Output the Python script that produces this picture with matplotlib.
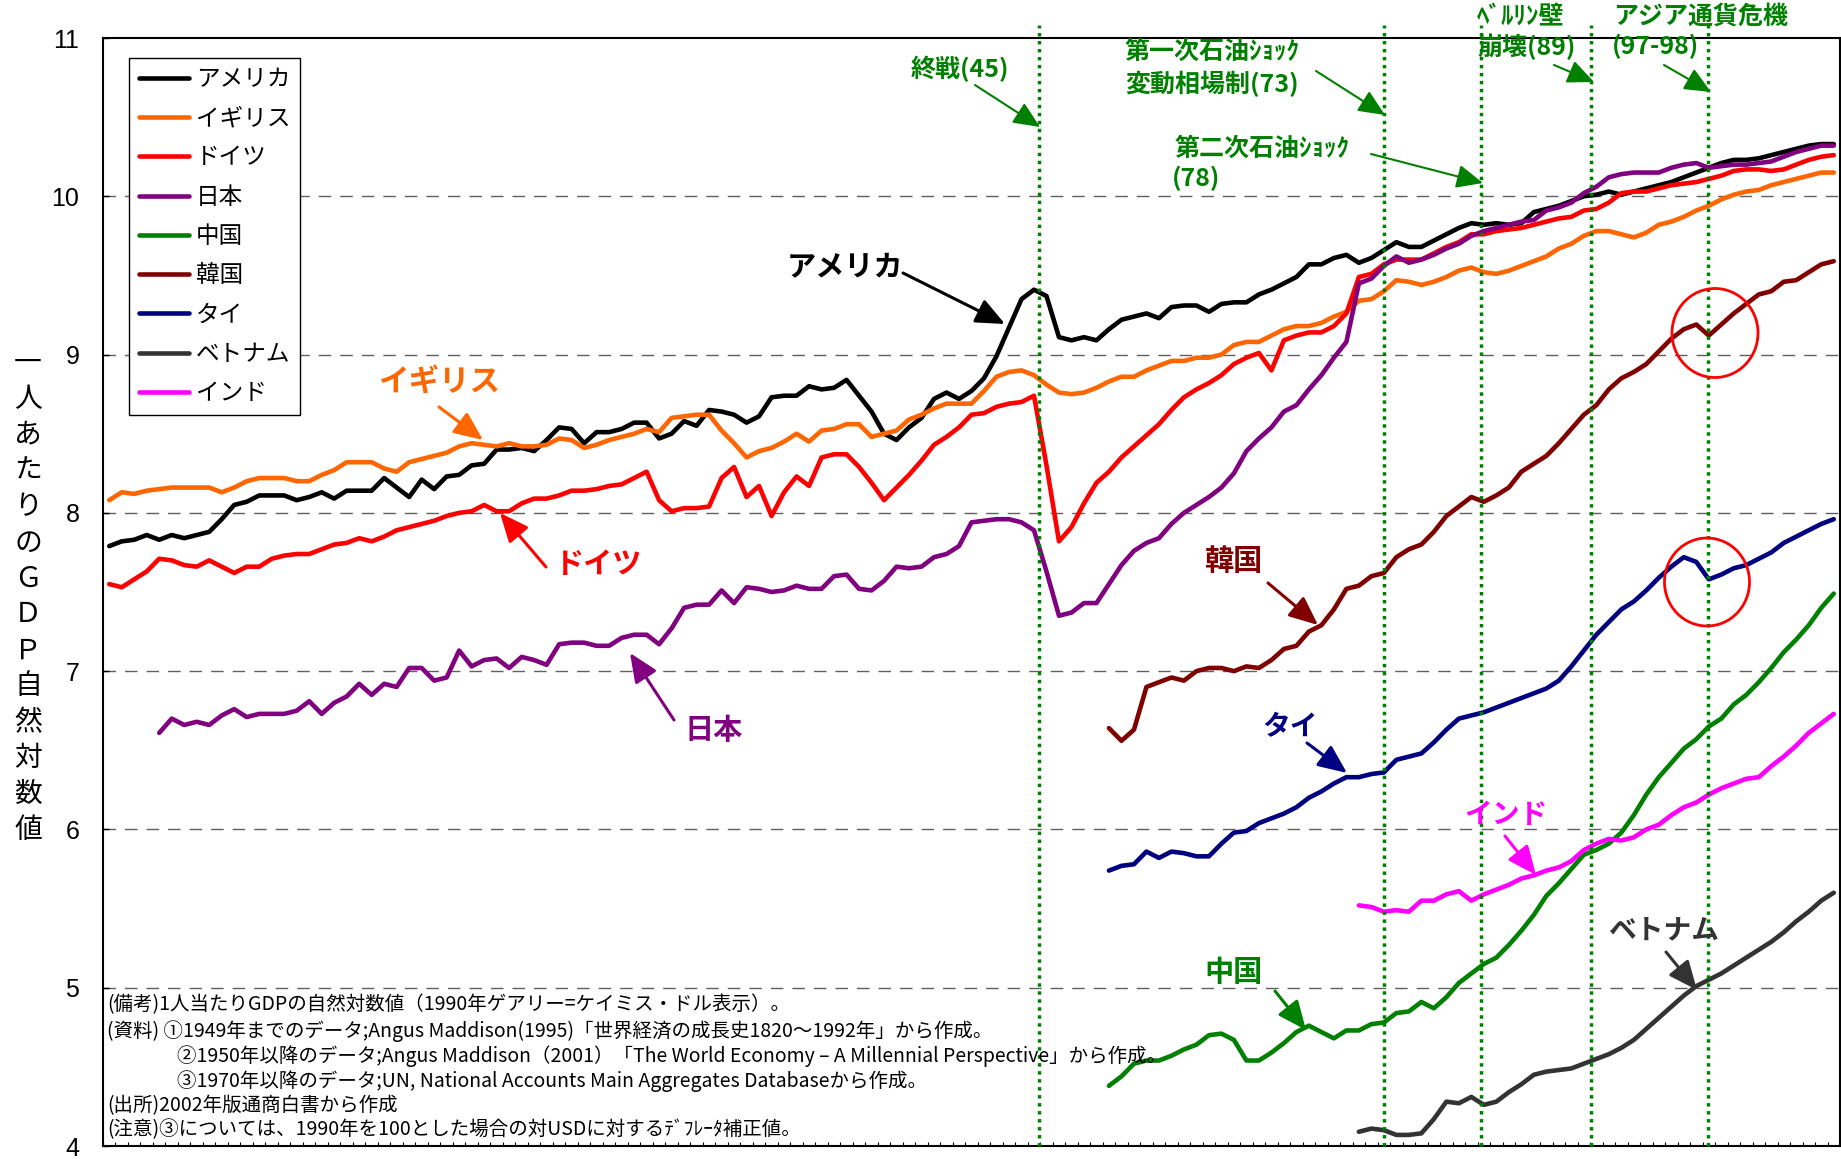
import numpy as np
import matplotlib
matplotlib.use("Agg")
import matplotlib.pyplot as plt
from matplotlib.transforms import Affine2D
from matplotlib.patches import Ellipse

plt.rcParams['font.family'] = ['Noto Sans CJK JP', 'DejaVu Sans']

# ---------------- data (natural log of GDP per capita) ----------------
years_all = list(range(1870, 2009))
years_japan = list(range(1874, 2009))
years_1950 = list(range(1950, 2009))
years_1970 = list(range(1970, 2009))

usa = [7.79, 7.82, 7.83, 7.86, 7.83, 7.86, 7.84, 7.86, 7.88, 7.96,
       8.05, 8.07, 8.11, 8.11, 8.11, 8.08, 8.10, 8.13, 8.09, 8.14,
       8.14, 8.14, 8.22, 8.16, 8.10, 8.21, 8.15, 8.23, 8.24, 8.30,
       8.31, 8.40, 8.40, 8.41, 8.39, 8.46, 8.54, 8.53, 8.44, 8.51,
       8.51, 8.53, 8.57, 8.57, 8.47, 8.50, 8.58, 8.55, 8.65, 8.64,
       8.62, 8.57, 8.61, 8.73, 8.74, 8.74, 8.80, 8.78, 8.79, 8.84,
       8.74, 8.64, 8.50, 8.46, 8.54, 8.60, 8.72, 8.76, 8.72, 8.77,
       8.85, 8.99, 9.17, 9.35, 9.41, 9.37, 9.11, 9.09, 9.11, 9.09,
       9.16, 9.22, 9.24, 9.26, 9.23, 9.30, 9.31, 9.31, 9.27, 9.32,
       9.33, 9.33, 9.38, 9.41, 9.45, 9.49, 9.57, 9.57, 9.61, 9.63,
       9.58, 9.61, 9.66, 9.71, 9.68, 9.68, 9.72, 9.76, 9.80, 9.83,
       9.82, 9.83, 9.82, 9.83, 9.90, 9.92, 9.94, 9.97, 10.00, 10.01,
       10.03, 10.01, 10.03, 10.05, 10.07, 10.09, 10.12, 10.15, 10.18, 10.21,
       10.23, 10.23, 10.24, 10.26, 10.28, 10.30, 10.32, 10.33, 10.33]

uk = [8.08, 8.13, 8.12, 8.14, 8.15, 8.16, 8.16, 8.16, 8.16, 8.13,
      8.16, 8.20, 8.22, 8.22, 8.22, 8.20, 8.20, 8.24, 8.27, 8.32,
      8.32, 8.32, 8.28, 8.26, 8.32, 8.34, 8.36, 8.38, 8.42, 8.44,
      8.43, 8.42, 8.44, 8.42, 8.42, 8.43, 8.47, 8.46, 8.41, 8.43,
      8.46, 8.48, 8.50, 8.53, 8.51, 8.60, 8.61, 8.62, 8.62, 8.52,
      8.44, 8.35, 8.39, 8.41, 8.45, 8.50, 8.45, 8.52, 8.53, 8.56,
      8.56, 8.48, 8.50, 8.52, 8.59, 8.62, 8.66, 8.69, 8.69, 8.69,
      8.77, 8.86, 8.89, 8.90, 8.87, 8.81, 8.76, 8.75, 8.76, 8.79,
      8.83, 8.86, 8.86, 8.90, 8.93, 8.96, 8.96, 8.98, 8.98, 9.00,
      9.06, 9.08, 9.08, 9.12, 9.16, 9.18, 9.18, 9.20, 9.24, 9.27,
      9.34, 9.35, 9.40, 9.47, 9.46, 9.44, 9.46, 9.49, 9.53, 9.55,
      9.52, 9.51, 9.53, 9.56, 9.59, 9.62, 9.67, 9.70, 9.75, 9.78,
      9.78, 9.76, 9.74, 9.77, 9.82, 9.84, 9.87, 9.91, 9.94, 9.98,
      10.01, 10.03, 10.04, 10.07, 10.09, 10.11, 10.13, 10.15, 10.15]

germany = [7.55, 7.53, 7.58, 7.63, 7.71, 7.70, 7.67, 7.66, 7.70, 7.66,
           7.62, 7.66, 7.66, 7.71, 7.73, 7.74, 7.74, 7.77, 7.80, 7.81,
           7.84, 7.82, 7.85, 7.89, 7.91, 7.93, 7.95, 7.98, 8.00, 8.01,
           8.05, 8.01, 8.01, 8.06, 8.09, 8.09, 8.11, 8.14, 8.14, 8.15,
           8.17, 8.18, 8.22, 8.26, 8.08, 8.01, 8.03, 8.03, 8.04, 8.22,
           8.29, 8.10, 8.17, 7.98, 8.13, 8.23, 8.17, 8.35, 8.37, 8.37,
           8.29, 8.19, 8.08, 8.16, 8.24, 8.33, 8.43, 8.48, 8.54, 8.62,
           8.63, 8.67, 8.69, 8.70, 8.74, 8.30, 7.82, 7.91, 8.06, 8.19,
           8.26, 8.35, 8.42, 8.49, 8.56, 8.65, 8.73, 8.78, 8.82, 8.87,
           8.94, 8.98, 9.01, 8.90, 9.09, 9.12, 9.14, 9.14, 9.18, 9.26,
           9.49, 9.51, 9.57, 9.60, 9.60, 9.60, 9.64, 9.68, 9.71, 9.76,
           9.76, 9.78, 9.79, 9.80, 9.82, 9.84, 9.86, 9.87, 9.91, 9.92,
           9.96, 10.02, 10.03, 10.03, 10.05, 10.07, 10.08, 10.09, 10.11, 10.13,
           10.16, 10.17, 10.17, 10.16, 10.17, 10.20, 10.23, 10.25, 10.26]

japan = [6.61, 6.70, 6.66, 6.68, 6.66, 6.72,
         6.76, 6.71, 6.73, 6.73, 6.73, 6.75, 6.81, 6.73, 6.80, 6.84,
         6.92, 6.85, 6.92, 6.90, 7.02, 7.02, 6.94, 6.96, 7.13, 7.03,
         7.07, 7.08, 7.02, 7.09, 7.07, 7.04, 7.17, 7.18, 7.18, 7.16,
         7.16, 7.21, 7.23, 7.23, 7.17, 7.27, 7.40, 7.42, 7.42, 7.51,
         7.43, 7.53, 7.52, 7.50, 7.51, 7.54, 7.52, 7.52, 7.60, 7.61,
         7.52, 7.51, 7.57, 7.66, 7.65, 7.66, 7.72, 7.74, 7.79, 7.94,
         7.95, 7.96, 7.96, 7.94, 7.89, 7.63, 7.35, 7.37, 7.43, 7.43,
         7.55, 7.67, 7.76, 7.81, 7.84, 7.93, 8.00, 8.05, 8.10, 8.16,
         8.25, 8.39, 8.47, 8.54, 8.64, 8.68, 8.78, 8.87, 8.98, 9.08,
         9.45, 9.48, 9.56, 9.62, 9.58, 9.60, 9.63, 9.67, 9.70, 9.75,
         9.78, 9.80, 9.82, 9.84, 9.85, 9.91, 9.93, 9.96, 10.02, 10.06,
         10.12, 10.14, 10.15, 10.15, 10.15, 10.18, 10.20, 10.21, 10.18, 10.19,
         10.20, 10.20, 10.21, 10.22, 10.25, 10.28, 10.30, 10.32, 10.32]

china = [4.38, 4.44, 4.52, 4.54, 4.54, 4.57, 4.61, 4.64, 4.70, 4.71,
         4.67, 4.54, 4.54, 4.59, 4.65, 4.72, 4.76, 4.72, 4.68, 4.73,
         4.73, 4.77, 4.78, 4.84, 4.85, 4.91, 4.87, 4.94, 5.03, 5.09,
         5.15, 5.19, 5.27, 5.36, 5.46, 5.58, 5.66, 5.75, 5.84, 5.87,
         5.91, 5.98, 6.09, 6.22, 6.33, 6.42, 6.51, 6.57, 6.65, 6.70,
         6.79, 6.85, 6.93, 7.02, 7.12, 7.20, 7.29, 7.40, 7.49]

korea = [6.64, 6.56, 6.63, 6.90, 6.93, 6.96, 6.94, 7.00, 7.02, 7.02,
         7.00, 7.03, 7.02, 7.07, 7.14, 7.16, 7.25, 7.29, 7.39, 7.52,
         7.54, 7.60, 7.62, 7.72, 7.77, 7.80, 7.88, 7.98, 8.04, 8.10,
         8.07, 8.11, 8.16, 8.26, 8.31, 8.36, 8.44, 8.53, 8.62, 8.68,
         8.78, 8.85, 8.89, 8.94, 9.02, 9.10, 9.16, 9.19, 9.12, 9.19,
         9.26, 9.32, 9.38, 9.40, 9.46, 9.47, 9.52, 9.57, 9.59]

thailand = [5.74, 5.77, 5.78, 5.86, 5.82, 5.86, 5.85, 5.83, 5.83, 5.91,
            5.98, 5.99, 6.04, 6.07, 6.10, 6.14, 6.20, 6.24, 6.29, 6.33,
            6.33, 6.35, 6.36, 6.44, 6.46, 6.48, 6.55, 6.63, 6.70, 6.72,
            6.74, 6.77, 6.80, 6.83, 6.86, 6.89, 6.94, 7.03, 7.13, 7.23,
            7.31, 7.39, 7.44, 7.51, 7.59, 7.66, 7.72, 7.69, 7.58, 7.61,
            7.65, 7.67, 7.71, 7.75, 7.81, 7.85, 7.89, 7.93, 7.96]

vietnam = [4.09, 4.11, 4.10, 4.07, 4.07, 4.08, 4.17, 4.28, 4.27, 4.31,
           4.26, 4.28, 4.34, 4.39, 4.45, 4.47, 4.48, 4.49, 4.52, 4.55,
           4.58, 4.62, 4.67, 4.74, 4.81, 4.88, 4.95, 5.01, 5.05, 5.09,
           5.14, 5.19, 5.24, 5.29, 5.35, 5.42, 5.48, 5.55, 5.60]

india = [5.52, 5.51, 5.48, 5.49, 5.48, 5.55, 5.55, 5.59, 5.61, 5.55,
         5.59, 5.62, 5.65, 5.69, 5.71, 5.74, 5.76, 5.80, 5.87, 5.91,
         5.94, 5.93, 5.95, 6.00, 6.03, 6.09, 6.14, 6.17, 6.22, 6.26,
         6.29, 6.32, 6.33, 6.40, 6.46, 6.53, 6.61, 6.67, 6.73]

names = ["アメリカ", "イギリス", "ドイツ", "日本", "中国", "韓国", "タイ", "ベトナム", "インド"]
colors = ["#000000", "#FF6600", "#FF0000", "#800080", "#008000", "#800000", "#000080", "#333333", "#FF00FF"]
series_x = [years_all, years_all, years_all, years_japan, years_1950, years_1950, years_1950, years_1970, years_1970]
series_y = [usa, uk, germany, japan, china, korea, thailand, vietnam, india]

event_years = [1944.4, 1971.97, 1979.75, 1988.6, 1997.95]

ytick_vals = [4, 5, 6, 7, 8, 9, 10, 11]

# ---------------- figure ----------------
W, H = 1841, 1159
fig = plt.figure(figsize=(W / 100, H / 100), dpi=100)
ax = fig.add_axes([103 / W, (H - 1146) / H, (1840 - 103) / W, (1146 - 38) / H])
PX = Affine2D().scale(1 / W, -1 / H).translate(0, 1) + fig.transFigure

for g in ytick_vals[1:-1]:
    ax.axhline(g, color="#606060", lw=1.0, ls=(0, (9, 6.5)), zorder=1)

for i, (nm, xs, ys, c) in enumerate(zip(names, series_x, series_y, colors)):
    ax.plot(xs, ys, color=c, lw=3.3, label=nm, solid_joinstyle="round",
            solid_capstyle="round", zorder=3 + i * 0.01)

ax.set_xlim(1869.6, 2008.25)
ax.set_ylim(4, 11)
ax.set_yticks(ytick_vals)
ax.set_xticks([])
ax.set_xticks(np.arange(1869.5, 2009, 1.0), minor=True)
ax.tick_params(axis="x", which="minor", direction="in", length=3, width=0.8,
               bottom=True, top=False, labelbottom=False)
ax.tick_params(axis="y", direction="in", length=4, width=1, pad=17,
               labelsize=18, labelfontfamily="Liberation Sans")
for s in ax.spines.values():
    s.set_linewidth(1.5)
    s.set_color("black")

# event lines
for ev in event_years:
    ax.plot([ev, ev], [4, 11.082], color="#008000", lw=2.5, ls=(0, (1, 1.3)),
            dash_capstyle="butt", clip_on=False, zorder=6)

# legend
leg = ax.legend(loc="upper left", bbox_to_anchor=(0.01497, 0.98195), borderaxespad=0,
                fontsize=17, handlelength=2.12, handletextpad=0.3, borderpad=0.42,
                labelspacing=0.69, frameon=True, fancybox=False, edgecolor="black",
                framealpha=1)
leg.get_frame().set_linewidth(1.0)
leg.set_zorder(8)

# red circles
for (cx, cy, w, h) in [(1715, 333, 86, 89), (1707, 582, 85, 88)]:
    ax.add_patch(Ellipse((cx, cy), w, h, transform=PX, fill=False, ec="red", lw=2, zorder=7,
                         clip_on=False))

# series labels with arrows
labels = [
    ("アメリカ", (845, 266), 21, "#000000", (903, 273), (1005, 324)),
    ("イギリス", (439, 383), 22, "#FF6600", (439, 407), (483, 440)),
    ("ドイツ", (598, 564), 21, "#FF0000", (546, 567), (500, 513)),
    ("日本", (714, 730), 21, "#800080", (674, 720), (630, 653)),
    ("韓国", (1233, 561), 21, "#800000", (1268, 583), (1318, 625)),
    ("タイ", (1290, 727), 20, "#000080", (1307, 743), (1347, 773)),
    ("インド", (1506, 815), 20, "#FF00FF", (1505, 836), (1536, 875)),
    ("中国", (1234, 972), 21, "#008000", (1275, 991), (1306, 1030)),
    ("ベトナム", (1664, 930), 20, "#333333", (1666, 952), (1697, 990)),
]
for txt, (tx, ty), fs, c, a0, a1 in labels:
    fig.text(tx, ty, txt, transform=PX, ha="center", va="center", fontsize=fs,
             fontweight="bold", color=c, zorder=9)
    ax.annotate("", xy=a1, xycoords=PX, xytext=a0, textcoords=PX, annotation_clip=False,
                arrowprops=dict(arrowstyle="-|>,head_length=0.8,head_width=0.35",
                                color=c, lw=2.2, shrinkA=0, shrinkB=0, mutation_scale=22))

# event annotations
green = "#008000"
ev_texts = [
    ("終戦(45)", 960, 69, "center"),
    ("第一次石油ｼｮｯｸ", 1125, 52, "left"),
    ("変動相場制(73)", 1125, 84, "left"),
    ("第二次石油ｼｮｯｸ", 1175, 149, "left"),
    ("(78)", 1172, 178, "left"),
    ("ﾍﾞﾙﾘﾝ壁", 1477, 17, "left"),
    ("崩壊(89)", 1477, 47, "left"),
    ("アジア通貨危機", 1613, 17, "left"),
    ("(97-98)", 1612, 46, "left"),
]
for t, x, y, ha in ev_texts:
    fig.text(x, y, t, transform=PX, ha=ha, va="center", fontsize=18, fontweight="bold",
             color=green)
ev_arrows = [((975, 85), (1040, 127)), ((1316, 71), (1385, 115)), ((1371, 154), (1483, 183)),
             ((1554, 65), (1594, 82)), ((1664, 65), (1711, 92))]
for a0, a1 in ev_arrows:
    ax.annotate("", xy=a1, xycoords=PX, xytext=a0, textcoords=PX, annotation_clip=False,
                arrowprops=dict(arrowstyle="-|>,head_length=0.9,head_width=0.4",
                                color=green, lw=1.5, shrinkA=0, shrinkB=0, mutation_scale=18))

# y label (vertical stacked)
ylab = "一人あたりのＧＤＰ自然対数値"
for i, ch in enumerate(ylab):
    fig.text(28, 363 + i * 35.9, ch, transform=PX, ha="center", va="center", fontsize=20)

# notes
notes = [
    ("(備考)1人当たりGDPの自然対数値（1990年ゲアリー=ケイミス・ドル表示）。", 107, 1005),
    ("(資料) ①1949年までのデータ;Angus Maddison(1995)「世界経済の成長史1820～1992年」から作成。", 107, 1031),
    ("②1950年以降のデータ;Angus Maddison（2001）「The World Economy – A Millennial Perspective」から作成。", 177, 1056),
    ("③1970年以降のデータ;UN, National Accounts Main Aggregates Databaseから作成。", 177, 1081),
    ("(出所)2002年版通商白書から作成", 107, 1106),
    ("(注意)③については、1990年を100とした場合の対USDに対するﾃﾞﾌﾚｰﾀ補正値。", 107, 1130),
]
for t, x, y in notes:
    fig.text(x, y, t, transform=PX, ha="left", va="center", fontsize=14, color="black")

fig.savefig("out.png", dpi=100)
